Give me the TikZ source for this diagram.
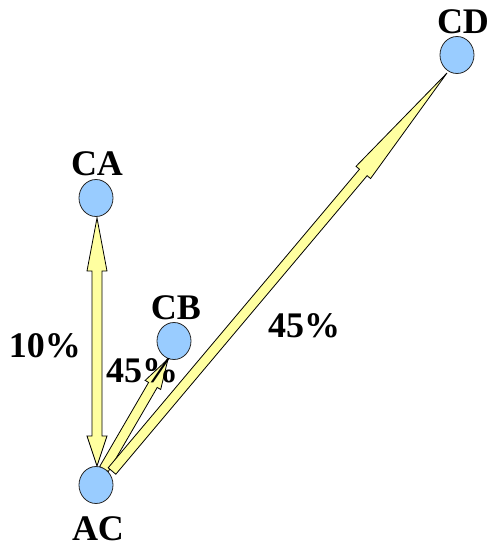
\documentclass[tikz,border=0pt]{standalone}
\usepackage{fontspec}
\setmainfont{Liberation Serif}
\usetikzlibrary{calc,shapes.geometric}
\definecolor{nodeblue}{RGB}{153,204,255}
\definecolor{arrowyellow}{RGB}{255,255,160}
\definecolor{edgegray}{RGB}{40,40,40}
\tikzset{
  vtx/.style={ellipse,draw=edgegray,line width=0.8pt,fill=nodeblue,minimum width=34pt,minimum height=37pt,inner sep=0pt},
  lbl/.style={font=\bfseries\fontsize{36}{36}\selectfont,anchor=base,inner sep=0pt},
  blockarr/.style={draw=black,line width=0.8pt,fill=arrowyellow,line join=miter}
}
% single-headed block arrow: #1 tail, #2 tip, #3 head length, #4 shaft half width, #5 head half width
\newcommand\myblockarrow[5]{%
  \draw[blockarr]
    ($(#1)!#4!90:(#2)$) --
    ($(#2)!#3!(#1)!#4!-90:(#1)$) --
    ($(#2)!#3!(#1)!#5!-90:(#1)$) --
    (#2) --
    ($(#2)!#3!(#1)!#5!90:(#1)$) --
    ($(#2)!#3!(#1)!#4!90:(#1)$) --
    ($(#1)!#4!-90:(#2)$) -- cycle;}
% double-headed block arrow: #1 and #2 tips, #3 head length at #1, #4 head length at #2, #5 shaft half width, #6 head half width
\newcommand\mydoublearrow[6]{%
  \draw[blockarr]
    (#1) --
    ($(#1)!#3!(#2)!#6!90:(#2)$) --
    ($(#1)!#3!(#2)!#5!90:(#2)$) --
    ($(#2)!#4!(#1)!#5!-90:(#1)$) --
    ($(#2)!#4!(#1)!#6!-90:(#1)$) --
    (#2) --
    ($(#2)!#4!(#1)!#6!90:(#1)$) --
    ($(#2)!#4!(#1)!#5!90:(#1)$) --
    ($(#1)!#3!(#2)!#5!-90:(#2)$) --
    ($(#1)!#3!(#2)!#6!-90:(#2)$) -- cycle;}
\begin{document}
\begin{tikzpicture}[x=1pt,y=-1pt]
\useasboundingbox (0,0) rectangle (492,547);
% arrow end points
\coordinate (caTip) at (97,218);
\coordinate (acTip) at (97,466);
\coordinate (cbTail) at (104,469);
\coordinate (cbTip) at (168,359);
\coordinate (cdTail) at (112,471);
\coordinate (cdTip) at (447,73);
% arrows
\mydoublearrow{caTip}{acTip}{53pt}{30pt}{5pt}{10pt}
\myblockarrow{cbTail}{cbTip}{30pt}{5pt}{9pt}
\myblockarrow{cdTail}{cdTip}{130pt}{5pt}{9.5pt}
% nodes
\node[vtx] (CA) at (96,198) {};
\node[vtx] (CB) at (174,341) {};
\node[vtx] (AC) at (96,485) {};
\node[vtx] (CD) at (457,55) {};
% labels
\node[lbl] (tCA) at (97,175) {CA};
\node[lbl] (tCB) at (176,319) {CB};
\node[lbl] (tCD) at (463,33) {CD};
\node[lbl] (tAC) at (98,540) {AC};
\node[lbl] (p10) at (45,357) {10\%};
\node[lbl] (p45a) at (142,382) {45\%};
\node[lbl] (p45b) at (304,337) {45\%};
\end{tikzpicture}
\end{document}
